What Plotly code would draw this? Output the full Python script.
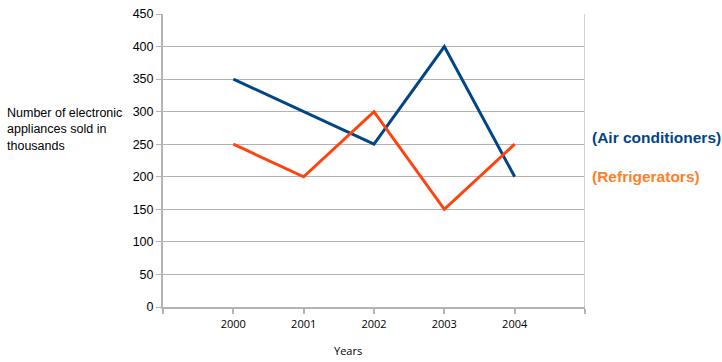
import plotly.graph_objects as go

years = ["2000", "2001", "2002", "2003", "2004"]
air_conditioners = [350, 300, 250, 400, 200]
refrigerators = [250, 200, 300, 150, 250]
y_ticks = [0, 50, 100, 150, 200, 250, 300, 350, 400, 450]

idx = list(range(len(years)))
BLUE = "#004586"
ORANGE = "#ff420e"
GRID = "#b3b3b3"

fig = go.Figure()
fig.add_trace(go.Scatter(x=idx, y=air_conditioners, mode="lines",
                         line=dict(color=BLUE, width=3), name="Air conditioners"))
fig.add_trace(go.Scatter(x=idx, y=refrigerators, mode="lines",
                         line=dict(color=ORANGE, width=3), name="Refrigerators"))

fig.update_layout(
    width=722, height=362,
    margin=dict(l=163, r=137, t=14, b=55),
    plot_bgcolor="white", paper_bgcolor="white",
    showlegend=False,
    font=dict(family="Liberation Sans, Arial, sans-serif", size=12, color="#000000"),
)
fig.update_xaxes(
    range=[-1, 5],
    tickmode="array",
    tickvals=[-1] + idx + [5],
    ticktext=[""] + years + [""],
    showgrid=False, zeroline=False,
    showline=True, linecolor=GRID, linewidth=2,
    ticks="outside", ticklen=5, tickcolor=GRID, tickwidth=1.5,
    tickfont=dict(family="Open Sans, DejaVu Sans, sans-serif", size=11),
    ticklabelstandoff=1,
    automargin=False,
)
fig.update_yaxes(
    range=[0, 450],
    tickmode="array", tickvals=y_ticks,
    showgrid=True, gridcolor=GRID, gridwidth=1,
    zeroline=False,
    showline=True, linecolor=GRID, linewidth=2,
    ticks="outside", ticklen=5, tickcolor=GRID, tickwidth=1,
    tickfont=dict(size=12.5),
    automargin=False,
)
# right border line of plot area
fig.add_shape(type="line", xref="x", yref="paper", x0=5, x1=5, y0=0, y1=1,
              line=dict(color="#d0d0d0", width=2))

fig.add_annotation(xref="paper", yref="y", x=-0.374, y=273, xanchor="left", yanchor="middle",
                   text="Number of electronic<br>appliances sold in<br>thousands",
                   showarrow=False, align="left", font=dict(size=12.5))
fig.add_annotation(xref="paper", yref="paper", x=0.438, y=-0.150, xanchor="center", yanchor="middle",
                   text="Years", showarrow=False,
                   font=dict(family="Open Sans, DejaVu Sans, sans-serif", size=11))
fig.add_annotation(xref="paper", yref="y", x=1.012, y=259.6, xanchor="left", yanchor="middle",
                   text="<b>(Air conditioners)</b>", showarrow=False,
                   font=dict(size=15.5, color=BLUE))
fig.add_annotation(xref="paper", yref="y", x=1.012, y=199.7, xanchor="left", yanchor="middle",
                   text="<b>(Refrigerators)</b>", showarrow=False,
                   font=dict(size=15.5, color="#ff7f2a"))

fig.write_html(
    "out.html",
    config={"displayModeBar": False},
    post_script="document.body.style.margin='0';document.body.style.padding='0';"
                "document.documentElement.style.overflow='hidden';",
)
